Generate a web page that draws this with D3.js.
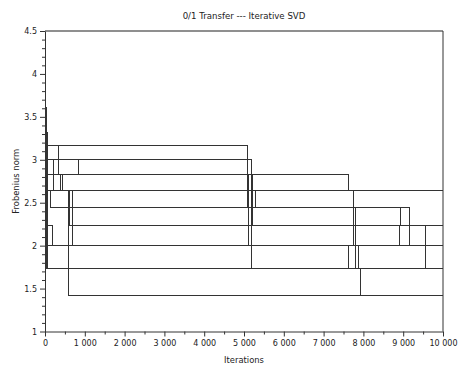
<!DOCTYPE html>
<html>
<head>
<meta charset="utf-8">
<script src="https://cdn.jsdelivr.net/npm/d3@7"></script>
<style>
  html, body { margin: 0; padding: 0; background: #fff; }
  svg { display: block; font-family: "DejaVu Sans", sans-serif; }
</style>
</head>
<body>
<svg id="chart" width="459" height="365"></svg>
<script>
// Best Frobenius norm per restart, recorded as (iteration, norm) events.
// Consecutive restarts are concatenated, so the step line returns to the
// left edge between runs.
const iterations = [
  5, 40, 60, 5084, 8920, 9553, 10000,
  10, 45, 846, 5109, 7632, 10000,
  15, 50, 344, 5210, 8900, 10000,
  20, 55, 5190, 10000,
  25, 65, 208, 5285, 9164, 10000,
  30, 70, 7615, 10000,
  35, 60, 450, 7740, 7871, 10000,
  12, 50, 133, 7808, 10000,
  18, 55, 193, 10000,
  22, 62, 400, 10000,
  28, 68, 695, 9560, 10000,
  32, 72, 7916, 10000,
  580, 628, 10000
];
const norms = [
  3.606, 3.317, 3.162, 2.449, 2.236, 2.000, 2.000,
  3.317, 3.000, 2.828, 2.000, 1.732, 1.732,
  3.317, 3.162, 2.828, 2.236, 2.000, 2.000,
  3.317, 3.000, 1.732, 1.732,
  3.317, 3.000, 2.646, 2.449, 2.000, 2.000,
  3.317, 2.828, 2.646, 2.646,
  3.162, 2.828, 2.646, 2.000, 1.732, 1.732,
  3.317, 2.646, 2.449, 1.732, 1.732,
  3.317, 2.236, 2.000, 2.000,
  3.317, 2.828, 2.646, 2.646,
  3.317, 2.646, 2.000, 1.732, 1.732,
  3.317, 1.732, 1.414, 1.414,
  2.646, 2.236, 2.236
];

const xTicks = [0, 1000, 2000, 3000, 4000, 5000, 6000, 7000, 8000, 9000, 10000];
const xMinorTicks = [500, 1500, 2500, 3500, 4500, 5500, 6500, 7500, 8500, 9500];
const yTicks = [1, 1.5, 2, 2.5, 3, 3.5, 4, 4.5];
const yMinorTicks = d3.range(10, 46).map(v => v / 10).filter(v => Math.round(v * 10) % 5 !== 0);

const titleText = "0/1 Transfer --- Iterative SVD";
const xLabel = "Iterations";
const yLabel = "Frobenius norm";

const svg = d3.select("#chart");
const plotLeft = 45, plotRight = 443, plotTop = 31, plotBottom = 331.5;

const x = d3.scaleLinear().domain([0, 10000]).range([plotLeft, plotRight]);
const y = d3.scaleLinear().domain([1, 4.5]).range([plotBottom, plotTop]);

const spaced = d3.formatLocale({ decimal: ".", thousands: " ", grouping: [3], currency: ["", ""] }).format(",");

// frame: top and right borders
svg.append("line").attr("x1", plotLeft).attr("x2", plotRight).attr("y1", plotTop).attr("y2", plotTop)
  .attr("stroke", "#6a6a6a").attr("stroke-width", 1.4);
svg.append("line").attr("x1", plotRight).attr("x2", plotRight).attr("y1", plotTop).attr("y2", plotBottom)
  .attr("stroke", "#333").attr("stroke-width", 1);

// data
const pts = iterations.map((it, i) => [it, norms[i]]);
const line = d3.line().x(d => x(d[0])).y(d => y(d[1])).curve(d3.curveStepAfter);
svg.append("path").datum(pts).attr("d", line)
  .attr("fill", "none").attr("stroke", "#333").attr("stroke-width", 1)
  .attr("shape-rendering", "crispEdges");

// axes
function styleAxis(g) {
  g.selectAll(".domain").attr("stroke", "#333");
  g.selectAll(".tick line").attr("stroke", "#333");
  g.selectAll("text").attr("fill", "#222").style("font-size", "8px")
    .style("font-family", "'DejaVu Sans', sans-serif");
}

svg.append("g").attr("transform", `translate(0,${plotBottom})`)
  .call(d3.axisBottom(x).tickValues(xMinorTicks).tickSize(3).tickFormat(""))
  .call(g => g.select(".domain").remove())
  .call(styleAxis);
svg.append("g").attr("transform", `translate(0,${plotBottom})`)
  .call(d3.axisBottom(x).tickValues(xTicks).tickSize(5).tickSizeOuter(0).tickPadding(4).tickFormat(spaced))
  .call(styleAxis);

svg.append("g").attr("transform", `translate(${plotLeft},0)`)
  .call(d3.axisLeft(y).tickValues(yMinorTicks).tickSize(3).tickFormat(""))
  .call(g => g.select(".domain").remove())
  .call(styleAxis);
svg.append("g").attr("transform", `translate(${plotLeft},0)`)
  .call(d3.axisLeft(y).tickValues(yTicks).tickSize(5).tickSizeOuter(0).tickPadding(3).tickFormat(d3.format("")))
  .call(styleAxis);

// titles
svg.append("text").attr("x", (plotLeft + plotRight) / 2).attr("y", 19).attr("text-anchor", "middle")
  .style("font-size", "8.6px").attr("fill", "#222").text(titleText);
svg.append("text").attr("x", (plotLeft + plotRight) / 2).attr("y", 363).attr("text-anchor", "middle")
  .style("font-size", "8.4px").attr("fill", "#222").text(xLabel);
svg.append("text").attr("transform", `translate(19,${(plotTop + plotBottom) / 2}) rotate(-90)`)
  .attr("text-anchor", "middle").style("font-size", "8.4px").attr("fill", "#222").text(yLabel);
</script>
</body>
</html>
